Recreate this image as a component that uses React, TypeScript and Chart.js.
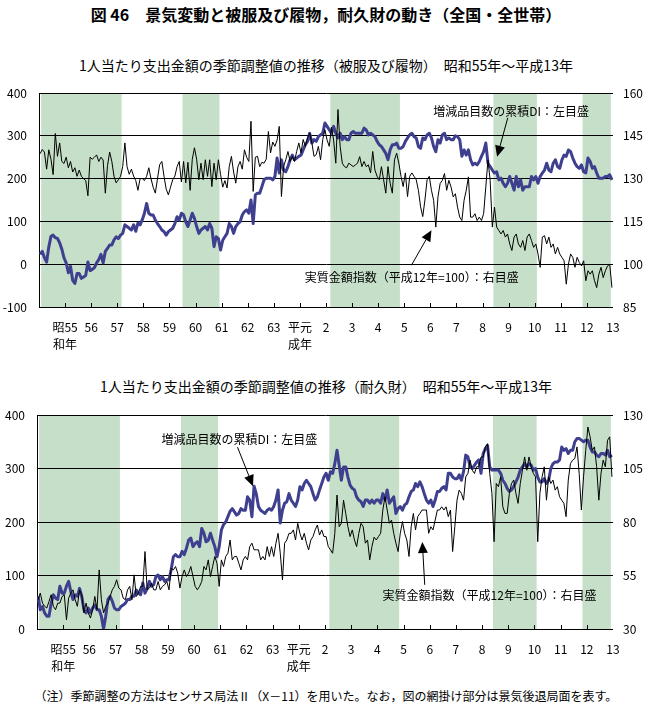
import React, { useEffect, useRef } from 'react';
import { Chart, registerables } from 'chart.js';

Chart.register(...registerables);

const FONT = "'Noto Sans CJK JP', 'Noto Sans', sans-serif";
const BLUE = '#3f3f8f';
const GREEN = '#c6dfc8';

// Year labels (placed at the end of each year)
const YEAR_LABELS: (string | string[])[] = [
  ['昭55', '和年'], '56', '57', '58', '59', '60', '61', '62', '63', ['平元', '成年'],
  '2', '3', '4', '5', '6', '7', '8', '9', '10', '11', '12', '13',
];

// Recession periods (month index from 1980 Jan = 0)
const RECESSION_START = [1, 66, 134, 209, 250];
const RECESSION_END = [38, 83, 166, 229, 263];

// Panel 1: clothing & footwear — cumulative DI (left axis)
const CLOTH_DI = [
  23, 30, 15, 5, 40, 65, 68, 62, 60, 50, 35, 15,
  3, -20, -5, -38, -45, -22, -22, -33, -30, -26, 5, -15,
  -12, -8, 3, 11, 23, 3, 30, 37, 45, 45, 57, 64,
  60, 68, 72, 92, 88, 84, 80, 92, 77, 96, 92, 104,
  119, 142, 119, 115, 115, 103, 95, 88, 80, 76, 68, 76,
  80, 84, 95, 111, 103, 119, 115, 99, 88, 103, 119, 107,
  88, 72, 80, 84, 88, 80, 95, 84, 41, 64, 60, 33,
  56, 64, 72, 95, 88, 72, 88, 95, 99, 115, 123, 127,
  119, 150, 95, 162, 166, 166, 181, 197, 201, 201, 201, 197,
  205, 248, 213, 244, 220, 216, 228, 244, 255, 244, 248, 252,
  255, 267, 279, 287, 306, 283, 291, 287, 298, 302, 306, 330,
  322, 314, 306, 322, 306, 295, 306, 291, 298, 291, 291, 306,
  310, 306, 306, 306, 306, 318, 314, 302, 306, 302, 298, 287,
  279, 275, 267, 259, 244, 267, 279, 279, 283, 271, 271, 275,
  287, 295, 302, 306, 298, 295, 275, 271, 295, 291, 302, 306,
  295, 275, 263, 291, 283, 302, 306, 291, 295, 291, 291, 300,
  298, 291, 252, 267, 255, 267, 244, 232, 236, 232, 240, 252,
  263, 283, 236, 228, 220, 213, 216, 197, 201, 189, 181, 189,
  205, 189, 173, 205, 181, 197, 173, 181, 181, 181, 205, 197,
  205, 189, 205, 213, 220, 236, 220, 216, 236, 244, 228, 224,
  244, 255, 252, 267, 263, 248, 236, 228, 224, 232, 216, 213,
  248, 240, 224, 228, 213, 201, 201, 201, 205, 205, 209, 197,
];

// Panel 1: clothing & footwear — real expenditure index (right axis)
const CLOTH_REAL = [
  138.7, 140.2, 139.3, 133.3, 140.1, 136.8, 131.4, 145.8, 137.8, 142.5, 136.0, 135.3,
  137.5, 133.8, 136.0, 132.3, 133.8, 130.8, 133.0, 130.8, 130.0, 129.3, 124.0, 137.5,
  136.8, 137.5, 138.3, 136.0, 137.5, 136.5, 124.9, 134.5, 139.3, 136.0, 130.8, 128.5,
  129.6, 130.8, 134.2, 142.5, 134.2, 131.5, 133.3, 130.9, 129.3, 125.9, 130.0, 130.0,
  129.3, 130.8, 133.8, 130.0, 127.0, 124.9, 130.0, 134.9, 136.0, 130.8, 126.3, 124.3,
  127.0, 129.6, 130.9, 134.2, 136.0, 128.8, 136.0, 128.5, 135.7, 125.9, 136.8, 140.8,
  136.8, 129.6, 135.4, 129.6, 136.6, 130.8, 136.6, 127.2, 135.4, 129.6, 136.6, 131.5,
  127.0, 129.3, 126.7, 134.2, 137.8, 132.3, 128.4, 134.2, 136.0, 133.3, 140.1, 137.5,
  136.0, 150.1, 125.5, 137.5, 137.8, 134.2, 135.7, 135.4, 136.8, 146.5, 139.0, 142.8,
  141.3, 143.5, 148.3, 123.7, 134.2, 136.6, 139.5, 136.0, 137.8, 136.0, 139.5, 142.5,
  139.0, 143.7, 141.3, 144.3, 145.9, 142.5, 137.8, 138.4, 141.3, 136.6, 143.7, 147.1,
  143.5, 141.3, 148.0, 143.5, 135.4, 154.2, 141.3, 135.4, 134.2, 133.8, 135.4, 134.8,
  134.2, 134.8, 135.4, 137.7, 134.2, 136.0, 134.2, 134.8, 132.0, 139.5, 133.0, 130.8,
  129.6, 134.2, 129.6, 124.9, 134.2, 128.4, 124.9, 136.6, 138.9, 135.4, 130.8, 127.2,
  132.0, 123.7, 130.8, 132.0, 130.8, 129.6, 125.9, 120.1, 116.7, 122.5, 129.6, 130.8,
  125.9, 122.4, 113.0, 123.6, 128.3, 129.4, 131.8, 125.9, 129.4, 127.1, 123.6, 124.7,
  120.0, 116.5, 115.3, 122.4, 125.9, 130.6, 116.5, 116.5, 117.7, 115.3, 116.5, 115.3,
  117.7, 127.1, 136.5, 129.4, 113.0, 120.0, 113.0, 111.8, 110.6, 111.8, 109.5, 110.6,
  107.1, 104.8, 109.5, 110.6, 107.1, 105.9, 108.3, 104.8, 109.5, 110.6, 108.3, 105.9,
  107.1, 103.6, 98.9, 109.5, 110.0, 107.1, 109.5, 105.9, 107.1, 103.6, 105.9, 103.6,
  102.4, 101.2, 93.0, 100.0, 103.6, 102.4, 98.9, 102.4, 100.6, 99.4, 101.2, 94.2,
  97.7, 96.5, 97.7, 94.2, 91.8, 96.5, 98.9, 95.3, 97.7, 99.4, 100.0, 91.8,
];

// Panel 2: durable goods — cumulative DI (left axis)
const DURABLE_DI = [
  61, 36, 42, 30, 24, 24, 48, 64, 58, 55, 80, 67,
  67, 80, 89, 70, 55, 64, 61, 76, 61, 36, 30, 39,
  30, 39, 45, 36, 36, 24, 0, 24, 55, 61, 52, 39,
  36, 36, 42, 45, 48, 55, 55, 61, 61, 73, 67, 64,
  86, 67, 76, 89, 80, 83, 98, 101, 92, 98, 89, 92,
  92, 111, 135, 139, 135, 135, 145, 139, 151, 166, 170, 154,
  160, 163, 154, 188, 179, 163, 166, 179, 166, 154, 135, 154,
  185, 195, 200, 210, 220, 225, 219, 213, 216, 225, 222, 222,
  247, 241, 210, 267, 253, 229, 222, 219, 216, 222, 225, 222,
  229, 241, 260, 198, 222, 235, 238, 253, 241, 235, 229, 241,
  266, 260, 272, 278, 272, 266, 253, 241, 247, 260, 272, 284,
  291, 278, 294, 291, 309, 334, 306, 278, 303, 303, 284, 269,
  263, 260, 247, 241, 238, 229, 241, 241, 235, 241, 235, 241,
  241, 235, 253, 241, 260, 235, 241, 247, 216, 225, 229, 222,
  232, 235, 247, 257, 260, 272, 266, 275, 266, 253, 241, 235,
  241, 229, 241, 257, 257, 263, 266, 260, 291, 291, 284, 281,
  281, 288, 278, 294, 325, 322, 303, 300, 306, 312, 316, 291,
  328, 337, 343, 303, 297, 297, 297, 297, 291, 278, 272, 263,
  257, 260, 266, 275, 284, 297, 303, 309, 303, 309, 306, 297,
  300, 284, 275, 275, 281, 272, 278, 300, 309, 312, 312, 316,
  340, 334, 337, 328, 334, 334, 350, 356, 356, 353, 350, 353,
  353, 340, 331, 331, 325, 322, 328, 328, 325, 334, 322, 325,
];

// Panel 2: durable goods — real expenditure index (right axis)
const DURABLE_REAL = [
  43.7, 46.8, 42.1, 40.6, 39.8, 42.9, 46.0, 40.6, 39.0, 42.1, 42.1, 45.2,
  46.0, 34.3, 44.4, 46.8, 48.3, 43.7, 40.6, 48.3, 46.0, 37.5, 42.1, 37.5,
  35.1, 39.0, 45.2, 39.0, 57.6, 43.7, 37.5, 40.6, 42.1, 45.2, 48.3, 49.9,
  53.0, 49.1, 48.3, 44.4, 43.7, 48.3, 49.9, 43.7, 55.3, 45.2, 46.8, 49.9,
  49.9, 66.2, 48.3, 49.1, 51.4, 48.3, 48.3, 52.2, 48.3, 49.9, 50.7, 52.2,
  48.3, 58.4, 57.6, 59.2, 56.1, 49.1, 54.5, 57.6, 54.5, 56.1, 59.2, 54.5,
  49.9, 48.3, 49.9, 52.2, 59.2, 57.6, 62.3, 54.5, 59.2, 63.9, 60.7, 49.9,
  62.3, 59.2, 63.9, 65.4, 71.6, 62.3, 63.9, 63.9, 60.7, 57.6, 62.3, 63.9,
  62.3, 68.5, 70.1, 67.0, 67.0, 67.0, 62.3, 63.9, 62.3, 68.5, 63.9, 68.5,
  63.9, 70.1, 74.7, 65.4, 53.0, 70.1, 71.6, 74.7, 74.7, 76.3, 71.6, 79.4,
  74.7, 71.6, 74.7, 70.1, 67.0, 71.6, 73.2, 76.3, 78.6, 73.9, 76.3, 73.2,
  73.2, 68.5, 67.0, 65.4, 74.7, 92.6, 77.8, 79.4, 90.2, 84.0, 77.8, 73.2,
  76.3, 71.6, 68.5, 74.7, 79.4, 77.8, 70.1, 71.6, 62.3, 68.5, 72.9, 71.6,
  73.2, 74.7, 85.6, 91.8, 85.6, 79.4, 80.9, 74.7, 70.1, 66.2, 74.7, 80.2,
  74.7, 71.6, 63.9, 77.8, 84.0, 76.3, 82.5, 84.0, 85.6, 85.6, 85.6, 74.7,
  77.8, 76.3, 80.9, 85.6, 85.6, 87.1, 85.6, 87.1, 82.5, 85.6, 66.2, 77.8,
  90.2, 94.9, 93.4, 90.2, 101.1, 102.7, 108.9, 104.2, 102.7, 105.8, 105.8, 110.4,
  110.4, 115.1, 116.6, 102.7, 93.4, 70.8, 98.0, 96.5, 101.1, 87.1, 84.0, 84.0,
  93.4, 98.0, 99.6, 93.4, 88.7, 98.0, 104.2, 110.4, 104.2, 110.4, 105.8, 102.7,
  101.1, 70.8, 93.4, 101.1, 105.8, 90.2, 101.1, 98.0, 99.6, 94.9, 96.5, 91.8,
  90.2, 88.7, 82.5, 99.6, 107.3, 108.9, 109.7, 115.1, 102.7, 85.6, 101.1, 113.5,
  124.4, 119.8, 113.5, 115.1, 105.8, 90.2, 102.7, 108.9, 105.8, 118.2, 119.8, 101.1,
];

const DI_LABEL = '増減品目数の累積DI：左目盛';
const REAL_LABEL = '実質金額指数（平成12年=100）：右目盛';

type Anno = { text: string; tx: number; ty: number; ax0: number; ay0: number; ax1: number; ay1: number };

type PanelProps = {
  top: number;
  height: number;
  chartTop: number;
  chartBottom: number;
  leftW: number;
  di: number[];
  real: number[];
  yMin: number; yMax: number; yStep: number;
  y1Min: number; y1Max: number; y1Step: number;
  annos: Anno[];
};

const toPoints = (arr: number[]) => arr.map((v, i) => ({ x: i + 0.5, y: v }));

function Panel(p: PanelProps) {
  const ref = useRef<HTMLCanvasElement>(null);
  useEffect(() => {
    if (!ref.current) return;
    const decor = {
      id: 'decor',
      beforeDraw(chart: any) {
        const { ctx, chartArea: a } = chart;
        const x = chart.scales.x;
        ctx.save();
        ctx.fillStyle = GREEN;
        RECESSION_START.forEach((s, i) => {
          const x0 = x.getPixelForValue(s);
          const x1 = x.getPixelForValue(RECESSION_END[i]);
          ctx.fillRect(x0, a.top, x1 - x0, a.bottom - a.top);
        });
        ctx.restore();
      },
      afterDraw(chart: any) {
        const { ctx, chartArea: a } = chart;
        const x = chart.scales.x;
        const y = chart.scales.y;
        ctx.save();
        ctx.strokeStyle = '#000';
        ctx.lineWidth = 1;
        for (let k = 1; k < YEAR_LABELS.length; k++) {
          const px = Math.round(x.getPixelForValue(k * 12)) + 0.5;
          ctx.beginPath();
          ctx.moveTo(px, a.bottom);
          ctx.lineTo(px, a.bottom - 4);
          ctx.stroke();
        }
        ctx.font = `12px ${FONT}`;
        ctx.fillStyle = '#000';
        ctx.textAlign = 'left';
        ctx.textBaseline = 'middle';
        p.annos.forEach((an) => {
          ctx.fillText(an.text, x.getPixelForValue(an.tx), y.getPixelForValue(an.ty));
          const x0 = x.getPixelForValue(an.ax0), y0 = y.getPixelForValue(an.ay0);
          const x1 = x.getPixelForValue(an.ax1), y1 = y.getPixelForValue(an.ay1);
          const ang = Math.atan2(y1 - y0, x1 - x0);
          const L = 11, W = 5;
          const bx = x1 - L * Math.cos(ang), by = y1 - L * Math.sin(ang);
          ctx.beginPath();
          ctx.moveTo(x0, y0);
          ctx.lineTo(bx, by);
          ctx.stroke();
          ctx.beginPath();
          ctx.moveTo(x1, y1);
          ctx.lineTo(bx + W * Math.sin(ang), by - W * Math.cos(ang));
          ctx.lineTo(bx - W * Math.sin(ang), by + W * Math.cos(ang));
          ctx.closePath();
          ctx.fill();
        });
        ctx.restore();
      },
    };
    const tickFont = { family: FONT, size: 12, lineHeight: 1.4 };
    const chart = new Chart(ref.current, {
      type: 'line',
      data: {
        datasets: [
          {
            label: REAL_LABEL,
            data: toPoints(p.real),
            yAxisID: 'y1',
            borderColor: '#000',
            borderWidth: 1,
            pointRadius: 0,
            borderJoinStyle: 'round',
            order: 0,
          },
          {
            label: DI_LABEL,
            data: toPoints(p.di),
            yAxisID: 'y',
            borderColor: BLUE,
            borderWidth: 3,
            pointRadius: 0,
            borderJoinStyle: 'round',
            order: 1,
          },
        ],
      },
      options: {
        animation: false,
        responsive: true,
        maintainAspectRatio: false,
        parsing: false as any,
        layout: { padding: { top: p.chartTop, left: 0, right: 0, bottom: 0 } },
        plugins: { legend: { display: false }, tooltip: { enabled: false } },
        elements: { line: { tension: 0 } },
        scales: {
          x: {
            type: 'linear',
            min: 0,
            max: 264,
            afterBuildTicks: (s: any) => {
              s.ticks = YEAR_LABELS.map((_, i) => ({ value: (i + 1) * 12 }));
            },
            afterFit: (s: any) => { s.height = p.height - p.chartBottom; },
            ticks: {
              autoSkip: false,
              maxRotation: 0,
              padding: 12,
              color: '#000',
              font: tickFont,
              callback: (v: any) => YEAR_LABELS[Math.round(Number(v) / 12) - 1] as any,
            },
            grid: { display: false, drawTicks: false },
            border: { display: false },
          },
          y: {
            position: 'left',
            min: p.yMin,
            max: p.yMax,
            afterFit: (s: any) => { s.width = p.leftW; },
            ticks: { stepSize: p.yStep, padding: 0, color: '#000', font: { family: FONT, size: 12 } },
            grid: { color: '#000', lineWidth: 1, drawTicks: true, tickLength: 12, tickColor: 'rgba(0,0,0,0)' },
            border: { display: true, color: '#000', width: 1 },
          },
          y1: {
            position: 'right',
            min: p.y1Min,
            max: p.y1Max,
            afterFit: (s: any) => { s.width = 39; },
            ticks: { stepSize: p.y1Step, padding: 0, color: '#000', font: { family: FONT, size: 12 } },
            grid: { drawOnChartArea: false, drawTicks: true, tickLength: 10, tickColor: 'rgba(0,0,0,0)' },
            border: { display: false },
          },
        },
      } as any,
      plugins: [decor],
    });
    return () => chart.destroy();
  }, []);
  return (
    <div style={{ position: 'absolute', left: 0, top: p.top, width: 652, height: p.height }}>
      <canvas ref={ref} style={{ display: 'block' }} />
    </div>
  );
}

const textStyle = (top: number, size: number, bold = false): React.CSSProperties => ({
  position: 'absolute',
  left: 0,
  top: top - 10,
  width: 652,
  height: 20,
  lineHeight: '20px',
  textAlign: 'center',
  fontFamily: FONT,
  fontSize: size,
  fontWeight: bold ? 'bold' : 'normal',
  color: '#000',
  whiteSpace: 'nowrap',
});

export default function App() {
  return (
    <div style={{ position: 'absolute', left: 0, top: 0, width: 652, height: 707, background: '#fff' }}>
      <div style={textStyle(14, 16, true)}>図 46　景気変動と被服及び履物，耐久財の動き（全国・全世帯）</div>
      <div style={textStyle(65, 14)}>1人当たり支出金額の季節調整値の推移（被服及び履物）　昭和55年～平成13年</div>
      <Panel
        top={80}
        height={280}
        chartTop={13}
        chartBottom={227}
        leftW={39}
        di={CLOTH_DI}
        real={CLOTH_REAL}
        yMin={-100} yMax={400} yStep={100}
        y1Min={85} y1Max={160} y1Step={15}
        annos={[
          { text: DI_LABEL, tx: 181.3, ty: 356, ax0: 215.6, ay0: 342, ax1: 210.7, ay1: 251 },
          { text: REAL_LABEL, tx: 122.2, ty: -30.5, ax0: 171.3, ay0: -2.4, ax1: 180.5, ay1: 79.6 },
        ]}
      />
      <div style={textStyle(386, 14)}>1人当たり支出金額の季節調整値の推移（耐久財）　昭和55年～平成13年</div>
      <Panel
        top={400}
        height={285}
        chartTop={15}
        chartBottom={229}
        leftW={37}
        di={DURABLE_DI}
        real={DURABLE_REAL}
        yMin={0} yMax={400} yStep={100}
        y1Min={30} y1Max={130} y1Step={25}
        annos={[
          { text: DI_LABEL, tx: 57.1, ty: 354.7, ax0: 91.9, ay0: 339.8, ax1: 99, ay1: 267 },
          { text: REAL_LABEL, tx: 158.4, ty: 62.1, ax0: 177.7, ay0: 82.6, ax1: 176.6, ay1: 162.7 },
        ]}
      />
      <div style={textStyle(696, 12)}>（注）季節調整の方法はセンサス局法Ⅱ（X－11）を用いた。なお，図の網掛け部分は景気後退局面を表す。</div>
    </div>
  );
}
